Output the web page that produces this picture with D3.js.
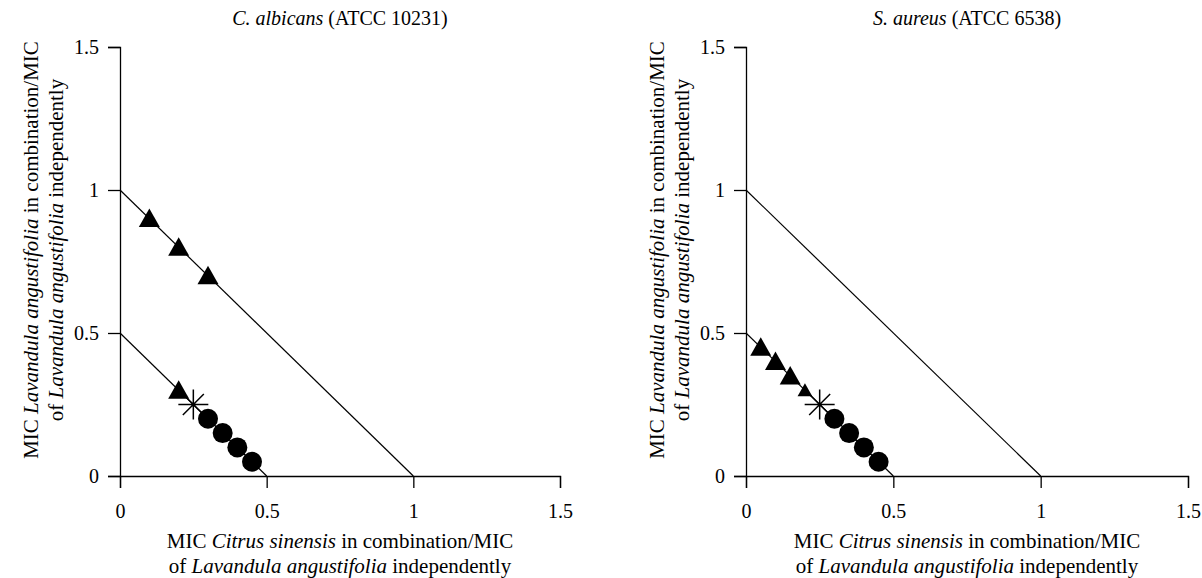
<!DOCTYPE html>
<html>
<head>
<meta charset="utf-8">
<script src="https://cdn.jsdelivr.net/npm/d3@7"></script>
<style>
  body { margin: 0; background: #fff; }
  text { font-family: "Liberation Serif", "Times New Roman", serif; fill: #000; }
</style>
</head>
<body>
<div id="chart-area"></div>
<script>
// axis ticks (both panels)
var tickValues = [0, 0.5, 1, 1.5];

// isobole lines: FIC = 1 and FIC = 0.5
var isoboleOne = [[0, 1], [1, 0]];
var isoboleHalf = [[0, 0.5], [0.5, 0]];

// C. albicans
var caTriangleX = [0.1, 0.2, 0.3, 0.2];
var caTriangleY = [0.9, 0.8, 0.7, 0.3];
var caStarX = [0.25];
var caStarY = [0.25];
var caCircleX = [0.3, 0.35, 0.4, 0.45];
var caCircleY = [0.2, 0.15, 0.1, 0.05];

// S. aureus
var saTriangleX = [0.05, 0.1, 0.15, 0.2];
var saTriangleY = [0.45, 0.4, 0.35, 0.3];
var saStarX = [0.25];
var saStarY = [0.25];
var saCircleX = [0.3, 0.35, 0.4, 0.45];
var saCircleY = [0.2, 0.15, 0.1, 0.05];

var zip = (xs, ys) => xs.map((x, i) => [x, ys[i]]);

var panels = [
  {
    left: 120, right: 560,
    title: [["C. albicans", true], [" (ATCC 10231)", false]],
    triangles: zip(caTriangleX, caTriangleY),
    stars: zip(caStarX, caStarY),
    circles: zip(caCircleX, caCircleY),
    smallLastTriangle: false
  },
  {
    left: 746, right: 1188,
    title: [["S. aureus", true], [" (ATCC 6538)", false]],
    triangles: zip(saTriangleX, saTriangleY),
    stars: zip(saStarX, saStarY),
    circles: zip(saCircleX, saCircleY),
    smallLastTriangle: true
  }
];

var xTitle = [
  [["MIC ", false], ["Citrus sinensis", true], [" in combination/MIC", false]],
  [["of ", false], ["Lavandula angustifolia", true], [" independently", false]]
];
var yTitle = [
  [["MIC ", false], ["Lavandula angustifolia", true], [" in combination/MIC", false]],
  [["of ", false], ["Lavandula angustifolia", true], [" independently", false]]
];

var svg = d3
  .select("#chart-area")
  .append("svg")
  .attr("width", 1202)
  .attr("height", 578);

function addRichText(sel, parts) {
  parts.forEach(p => {
    sel.append("tspan").text(p[0]).style("font-style", p[1] ? "italic" : "normal");
  });
}

var plotTop = 47, plotBottom = 476;

panels.forEach(p => {
  var x = d3.scaleLinear().domain([0, 1.5]).range([p.left, p.right]);
  var y = d3.scaleLinear().domain([0, 1.5]).range([plotBottom, plotTop]);
  var g = svg.append("g");

  // axes
  var xAxis = g.append("g")
    .attr("transform", "translate(0," + plotBottom + ")")
    .call(d3.axisBottom(x).tickValues(tickValues).tickFormat(d3.format("~g"))
      .tickSizeOuter(0).tickSize(12).tickPadding(16));
  var yAxis = g.append("g")
    .attr("transform", "translate(" + p.left + ",0)")
    .call(d3.axisLeft(y).tickValues(tickValues).tickFormat(d3.format("~g"))
      .tickSizeOuter(0).tickSize(12).tickPadding(9));
  [xAxis, yAxis].forEach(a => {
    a.selectAll("path, line").attr("stroke", "#000").attr("stroke-width", 1.3);
    a.selectAll("text").style("font-size", "20px").attr("font-family", null);
  });

  // isobole lines
  var line = d3.line().x(d => x(d[0])).y(d => y(d[1]));
  [isoboleOne, isoboleHalf].forEach(l => {
    g.append("path").attr("d", line(l))
      .attr("fill", "none").attr("stroke", "#000").attr("stroke-width", 1.2);
  });

  // triangles
  g.selectAll(".tri")
    .data(p.triangles)
    .enter()
    .append("path")
    .attr("d", (d, i) => {
      var s = (p.smallLastTriangle && i === p.triangles.length - 1) ? 0.7 : 1;
      var w = 10.5 * s, hu = 10 * s, hd = 8.5 * s;
      var cx = x(d[0]), cy = y(d[1]);
      return "M" + cx + "," + (cy - hu) + "L" + (cx + w) + "," + (cy + hd) +
        "L" + (cx - w) + "," + (cy + hd) + "Z";
    })
    .attr("fill", "#000");

  // circles
  g.selectAll(".dot")
    .data(p.circles)
    .enter()
    .append("circle")
    .attr("cx", d => x(d[0]))
    .attr("cy", d => y(d[1]))
    .attr("r", 10)
    .attr("fill", "#000");

  // asterisk
  g.selectAll(".star")
    .data(p.stars)
    .enter()
    .append("path")
    .attr("d", d => {
      var cx = x(d[0]), cy = y(d[1]), a = 15, b = 10.5;
      return "M" + (cx - a) + "," + cy + "H" + (cx + a) +
        "M" + cx + "," + (cy - a) + "V" + (cy + a) +
        "M" + (cx - b) + "," + (cy - b) + "L" + (cx + b) + "," + (cy + b) +
        "M" + (cx - b) + "," + (cy + b) + "L" + (cx + b) + "," + (cy - b);
    })
    .attr("stroke", "#000")
    .attr("stroke-width", 1.5)
    .attr("fill", "none");

  // panel title
  var cx = (p.left + p.right) / 2;
  addRichText(g.append("text").attr("x", cx).attr("y", 25)
    .attr("text-anchor", "middle").style("font-size", "20px"), p.title);

  // x axis title
  xTitle.forEach((parts, i) => {
    addRichText(g.append("text").attr("x", cx).attr("y", 548 + i * 25)
      .attr("text-anchor", "middle").style("font-size", "21px"), parts);
  });

  // y axis title
  yTitle.forEach((parts, i) => {
    addRichText(g.append("text")
      .attr("transform", "translate(" + (p.left - 82 + i * 25) + ",250) rotate(-90)")
      .attr("text-anchor", "middle").style("font-size", "21px"), parts);
  });
});
</script>
</body>
</html>
